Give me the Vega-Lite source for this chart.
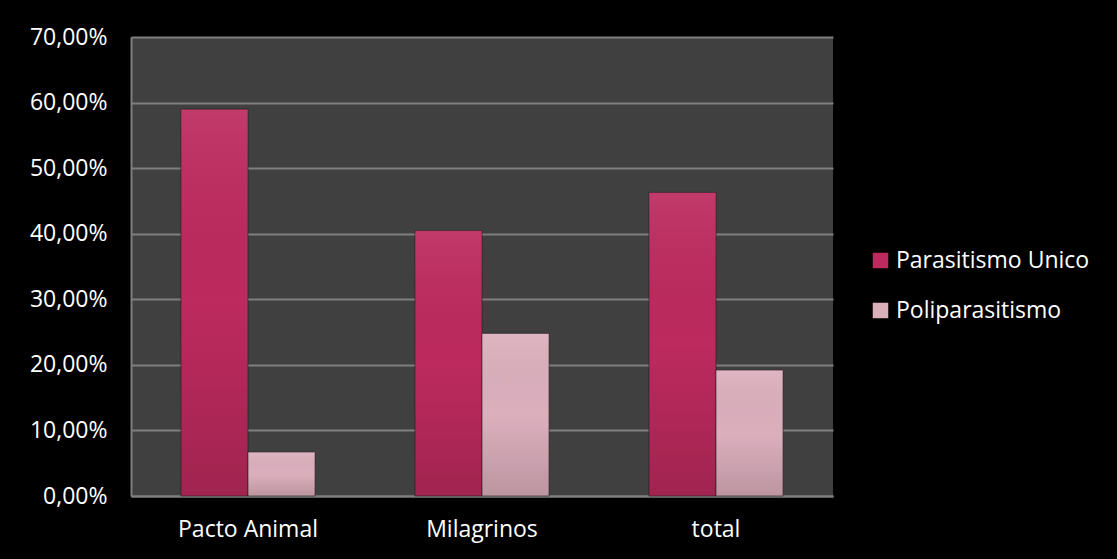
{
  "$schema": "https://vega.github.io/schema/vega-lite/v6.json",
  "autosize": {"type": "none"},
  "width": 702,
  "height": 459,
  "padding": {"left": 131, "top": 37, "right": 284, "bottom": 63},
  "background": "#000000",
  "config": {
    "locale": {"number": {"decimal": ",", "thousands": ".", "grouping": [3], "currency": ["", " €"]}},
    "view": {"fill": "#404040", "stroke": null},
    "font": "Open Sans"
  },
  "data": {
    "values": [
      {"lugar": "Pacto Animal", "tipo": "Parasitismo Unico", "valor": 0.590},
      {"lugar": "Pacto Animal", "tipo": "Poliparasitismo", "valor": 0.067},
      {"lugar": "Milagrinos", "tipo": "Parasitismo Unico", "valor": 0.405},
      {"lugar": "Milagrinos", "tipo": "Poliparasitismo", "valor": 0.248},
      {"lugar": "total", "tipo": "Parasitismo Unico", "valor": 0.463},
      {"lugar": "total", "tipo": "Poliparasitismo", "valor": 0.192}
    ]
  },
  "encoding": {
    "x": {
      "field": "lugar", "type": "nominal",
      "sort": ["Pacto Animal", "Milagrinos", "total"],
      "scale": {"paddingInner": 0.427, "paddingOuter": 0.2135},
      "axis": {
        "title": null, "labelAngle": 0, "ticks": false,
        "domainColor": "#7f7f7f", "domainWidth": 2,
        "labelColor": "#ffffff", "labelFontSize": 23, "labelFont": "Open Sans",
        "labelPadding": 22
      }
    },
    "xOffset": {
      "field": "tipo", "type": "nominal",
      "sort": ["Parasitismo Unico", "Poliparasitismo"],
      "scale": {"paddingInner": 0, "paddingOuter": 0}
    },
    "y": {
      "field": "valor", "type": "quantitative",
      "scale": {"domain": [0, 0.7], "nice": false},
      "axis": {
        "title": null, "format": ".2%",
        "values": [0, 0.1, 0.2, 0.3, 0.4, 0.5, 0.6, 0.7],
        "ticks": false, "labelPadding": 24,
        "labelColor": "#ffffff", "labelFontSize": 23, "labelFont": "Open Sans",
        "domainColor": "#7f7f7f", "domainWidth": 2,
        "gridColor": "#7f7f7f", "gridWidth": 2
      }
    }
  },
  "layer": [
    {
      "mark": {"type": "bar", "stroke": "#2a1a20", "strokeWidth": 1, "strokeOpacity": 0.6},
      "encoding": {
        "color": {
          "field": "tipo", "type": "nominal",
          "scale": {"domain": ["Parasitismo Unico", "Poliparasitismo"], "range": ["#bd2a5d", "#dcafbd"]},
          "legend": {
            "title": null, "orient": "none", "legendX": 738, "legendY": 212,
            "symbolType": "square", "symbolSize": 240, "symbolStrokeWidth": 0,
            "labelColor": "#ffffff", "labelFontSize": 23, "labelFont": "Open Sans",
            "labelLimit": 0,
            "rowPadding": 26, "labelOffset": 4
          }
        }
      }
    },
    {
      "mark": {
        "type": "bar",
        "color": {
          "gradient": "linear", "x1": 0, "y1": 0, "x2": 0, "y2": 1,
          "stops": [
            {"offset": 0, "color": "rgba(255,255,255,0.08)"},
            {"offset": 0.5, "color": "rgba(0,0,0,0)"},
            {"offset": 1, "color": "rgba(0,0,0,0.15)"}
          ]
        }
      }
    }
  ]
}
